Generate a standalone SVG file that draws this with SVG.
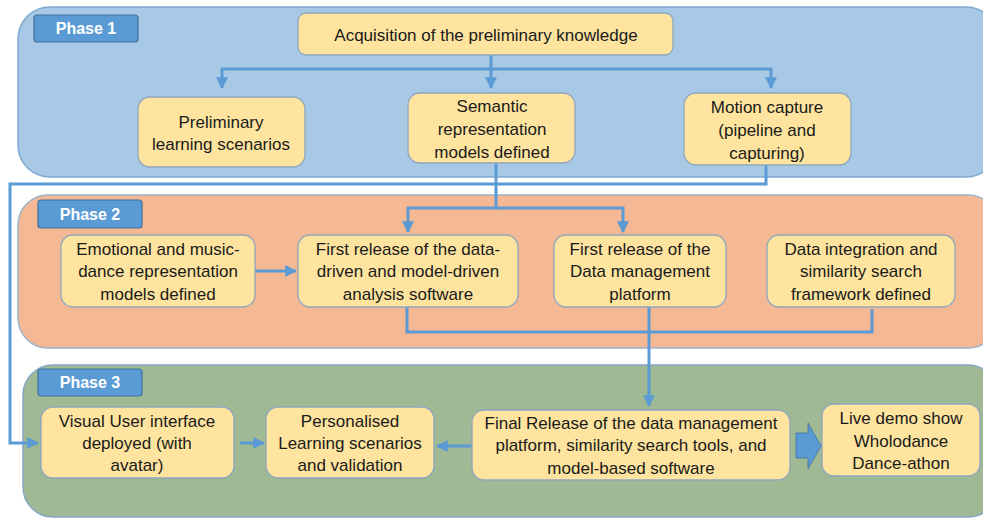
<svg xmlns="http://www.w3.org/2000/svg" width="983" height="518" viewBox="0 0 983 518">
<defs>
<style>
.panel{stroke-width:1.5}
.p1{fill:#a7c9e5;stroke:#7fa9cf}
.p2{fill:#f5b894;stroke:#9db3c8}
.p3{fill:#a0b995;stroke:#86a7c4}
.lab rect{fill:#5b9bd5;stroke:#41719c;stroke-width:1.2}
.lab text{fill:#fff;font-family:"Liberation Sans",Arial,sans-serif;font-weight:bold;font-size:16px;text-anchor:middle}
.node rect{fill:#fee49f;stroke:#8fa6bd;stroke-width:1.3}
.node text{fill:#1a1a1a;font-family:"Liberation Sans",Arial,sans-serif;font-size:17px;text-anchor:middle}
.conn path{fill:none;stroke:#5b9bd5;stroke-width:3}
</style>
<marker id="ah" viewBox="0 0 10 10" refX="9" refY="5" markerWidth="4" markerHeight="4" markerUnits="strokeWidth" orient="auto">
<path d="M0,0 L10,5 L0,10 z" fill="#5b9bd5"/>
</marker>
</defs>
<rect width="983" height="518" fill="#fff"/>
<g id="phase1-panel"><rect class="panel p1" x="18" y="7" width="980" height="170" rx="32"/></g>
<g id="phase2-panel"><rect class="panel p2" x="18" y="195" width="980" height="153" rx="30"/></g>
<g id="phase3-panel"><rect class="panel p3" x="23" y="365" width="975" height="152" rx="30"/></g>

<g id="phase1-label" class="lab"><rect x="34" y="15" width="104" height="27" rx="3"/><text x="86" y="34">Phase 1</text></g>
<g id="phase2-label" class="lab"><rect x="38" y="200" width="104" height="28" rx="3"/><text x="90" y="220">Phase 2</text></g>
<g id="phase3-label" class="lab"><rect x="38" y="369" width="104" height="27" rx="3"/><text x="90" y="388">Phase 3</text></g>

<g class="conn" id="connectors">
<path d="M491,55 V69 H222 V88" marker-end="url(#ah)"/>
<path d="M491,69 V88" marker-end="url(#ah)"/>
<path d="M491,69 H771 V88" marker-end="url(#ah)"/>
<path d="M496,163 V208 H408 V232" marker-end="url(#ah)"/>
<path d="M496,208 H623 V232" marker-end="url(#ah)"/>
<path d="M766,165 V184 H10 V443 H38" marker-end="url(#ah)"/>
<path d="M255,271 H296" marker-end="url(#ah)"/>
<path d="M407,307 V332 H872 V309"/>
<path d="M649,307 V406" marker-end="url(#ah)"/>
<path d="M240,443 H264" marker-end="url(#ah)"/>
<path d="M472,446 H437" marker-end="url(#ah)"/>
<polygon points="796,433 808,433 808,423 821,446 808,469 808,458 796,458" fill="#5b9bd5" stroke="#41719c" stroke-width="0.8"/>
</g>

<g id="acquisition" class="node"><rect x="298" y="13" width="375" height="42" rx="8"/><text x="486" y="41">Acquisition of the preliminary knowledge</text></g>
<g id="preliminary" class="node"><rect x="138" y="97" width="167" height="70" rx="12"/><text x="221" y="128">Preliminary</text><text x="221" y="150">learning scenarios</text></g>
<g id="semantic" class="node"><rect x="408" y="93" width="167" height="70" rx="12"/><text x="492" y="112">Semantic</text><text x="492" y="135">representation</text><text x="492" y="158">models defined</text></g>
<g id="motion" class="node"><rect x="684" y="93" width="167" height="72" rx="12"/><text x="767" y="113">Motion capture</text><text x="767" y="136">(pipeline and</text><text x="767" y="159">capturing)</text></g>

<g id="emotional" class="node"><rect x="61" y="235" width="194" height="72" rx="12"/><text x="158" y="255">Emotional and music-</text><text x="158" y="277">dance representation</text><text x="158" y="300">models defined</text></g>
<g id="analysis" class="node"><rect x="298" y="235" width="220" height="72" rx="12"/><text x="408" y="255">First release of the data-</text><text x="408" y="277">driven and model-driven</text><text x="408" y="300">analysis software</text></g>
<g id="datamgmt" class="node"><rect x="554" y="235" width="172" height="72" rx="12"/><text x="640" y="255">First release of the</text><text x="640" y="277">Data management</text><text x="640" y="300">platform</text></g>
<g id="integration" class="node"><rect x="767" y="235" width="188" height="72" rx="12"/><text x="861" y="255">Data integration and</text><text x="861" y="277">similarity search</text><text x="861" y="300">framework defined</text></g>

<g id="visual" class="node"><rect x="41" y="407" width="193" height="71" rx="12"/><text x="137" y="427">Visual User interface</text><text x="137" y="449">deployed (with</text><text x="137" y="471">avatar)</text></g>
<g id="personalised" class="node"><rect x="266" y="407" width="168" height="71" rx="12"/><text x="350" y="427">Personalised</text><text x="350" y="449">Learning scenarios</text><text x="350" y="471">and validation</text></g>
<g id="final" class="node"><rect x="472" y="410" width="318" height="70" rx="12"/><text x="631" y="429">Final Release of the data management</text><text x="631" y="451">platform, similarity search tools, and</text><text x="631" y="474">model-based software</text></g>
<g id="livedemo" class="node"><rect x="822" y="404" width="158" height="72" rx="12"/><text x="901" y="424">Live demo show</text><text x="901" y="447">Wholodance</text><text x="901" y="469">Dance-athon</text></g>
</svg>
